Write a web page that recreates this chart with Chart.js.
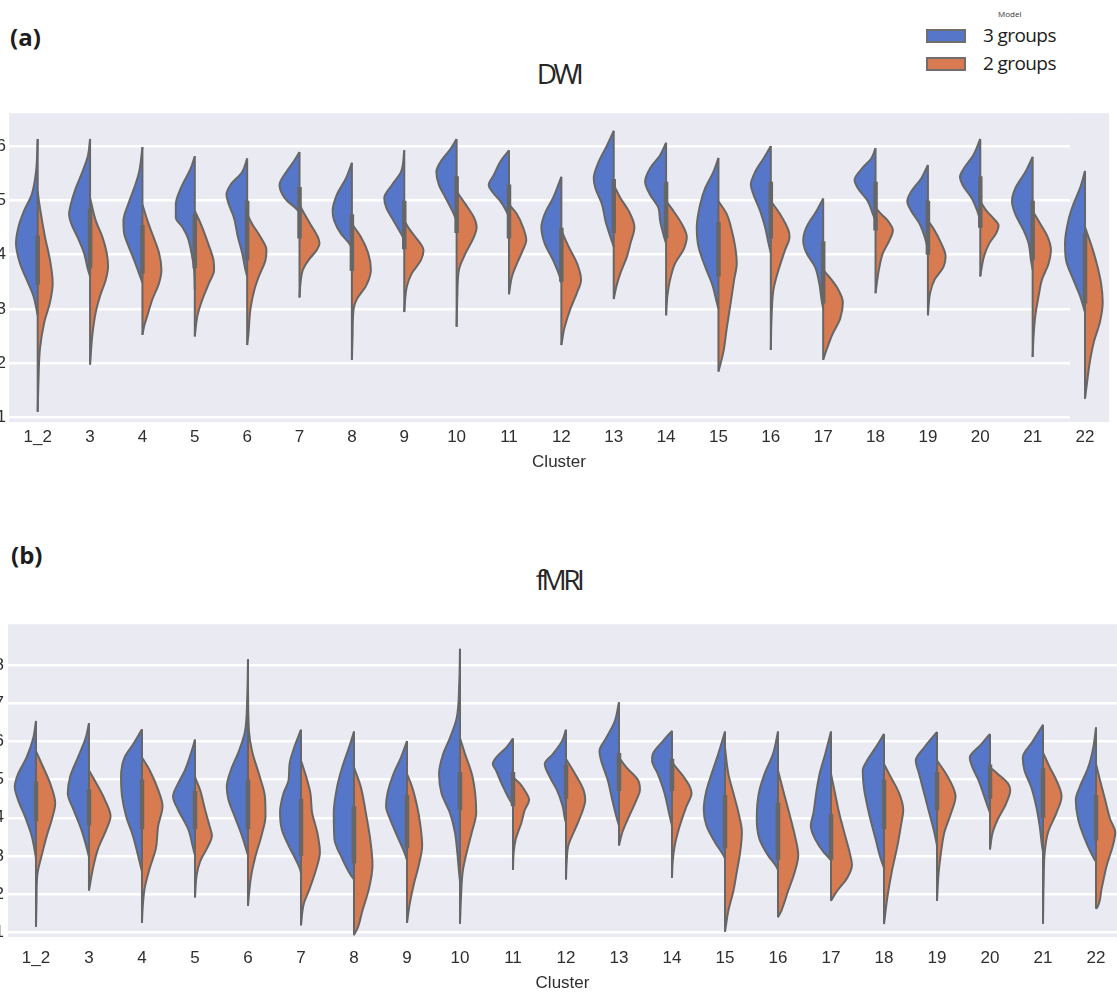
<!DOCTYPE html>
<html>
<head>
<meta charset="utf-8">
<script src="https://cdn.jsdelivr.net/npm/chart.js@4.4.1/dist/chart.umd.min.js"></script>
<style>
  html, body { margin: 0; padding: 0; background: #fff; }
  body { position: relative; width: 1117px; height: 996px; overflow: hidden; font-family: "Open Sans", sans-serif; }
  .tag { position: absolute; font-weight: 700; font-size: 24px; line-height: 24px; color: #1c1c1c; }
  .title { position: absolute; left: 0; width: 1117px; text-align: center; font-size: 28px; line-height: 28px; letter-spacing: -3.5px; color: #262626; }
  .panel { position: absolute; left: -30px; }
  .legend-title { position: absolute; left: 998px; top: 10px; font-size: 8px; line-height: 8px; color: #333; }
  .patch { position: absolute; left: 926px; width: 36px; height: 10px; border: 2px solid #6e6e6e; }
  .legend-text { position: absolute; left: 983px; font-size: 19px; line-height: 19px; letter-spacing: -0.6px; color: #1c1c1c; }
</style>
</head>
<body>

<div class="legend-title">Model</div>
<div class="patch" style="top:29px; background:#5677C9"></div>
<div class="legend-text" style="top:26px">3 groups</div>
<div class="patch" style="top:57px; background:#D97B51"></div>
<div class="legend-text" style="top:54px">2 groups</div>

<div class="tag" style="left:10px; top:25px">(a)</div>
<div class="title" style="top:59px">DWI</div>
<div class="panel" style="top:100px"><canvas id="dwi" width="1147" height="375"></canvas></div>

<div class="tag" style="left:11px; top:543px">(b)</div>
<div class="title" style="top:565px">fMRI</div>
<div class="panel" style="top:610px"><canvas id="fmri" width="1147" height="385"></canvas></div>

<script>
"use strict";

const CLUSTERS = ["1_2", "3", "4", "5", "6", "7", "8", "9", "10", "11", "12",
  "13", "14", "15", "16", "17", "18", "19", "20", "21", "22"];

const DWI_TICKS = [1, 2, 3, 4, 5, 6];
const FMRI_TICKS = [1, 2, 3, 4, 5, 6, 7, 8];

// Half-violin profiles: [score, density] pairs from the top tip down to the bottom tip.
const DWI_3G = [
  [[6.14,0],[5.53,1.7],[5.11,6],[4.81,13.7],[4.51,19.3],[4.21,21.7],[3.84,17.7],[3.54,11],[3.24,4.3],[2.88,0]],
  [[6.14,0],[5.84,2],[5.53,7.7],[5.23,14.3],[4.93,19.3],[4.75,21],[4.57,18.7],[4.33,12.7],[4.03,6],[3.72,2],[3.6,0]],
  [[5.99,0],[5.53,3.3],[5.23,8.3],[4.93,14.3],[4.63,19],[4.39,18.3],[4.21,15],[3.9,8.3],[3.6,2.3],[3.48,0]],
  [[5.82,0],[5.6,4],[5.23,14],[4.93,19],[4.69,19],[4.51,12.3],[4.33,7.3],[4.03,3.3],[3.72,0.7],[3.36,0]],
  [[5.78,0],[5.53,5],[5.29,16.7],[5.11,20.7],[4.93,18.3],[4.69,13.3],[4.33,9.3],[4.03,5],[3.72,1.7],[3.6,0]],
  [[5.9,0],[5.72,6],[5.53,13.3],[5.29,20],[5.11,17],[4.99,12],[4.87,4.3],[4.78,0]],
  [[5.7,0],[5.41,6],[5.11,15],[4.81,19.3],[4.63,17.7],[4.39,11],[4.21,2.7],[4.12,0]],
  [[5.93,0],[5.53,3.3],[5.29,12.3],[5.05,20],[4.87,18],[4.63,10.7],[4.39,3.3],[4.27,0]],
  [[6.14,0],[5.96,6],[5.72,16],[5.53,20.3],[5.29,17.7],[5.05,11],[4.81,4.3],[4.63,0]],
  [[5.93,0],[5.72,8.7],[5.47,15.3],[5.29,20.3],[5.17,17],[4.99,8.7],[4.81,2.7],[4.69,0]],
  [[5.44,0],[5.05,8.3],[4.75,16.7],[4.51,20],[4.21,16.7],[3.9,8.3],[3.6,1.7],[3.48,0]],
  [[6.29,0],[6.02,6.7],[5.72,15],[5.41,20],[5.23,18.3],[4.93,11.7],[4.63,8.3],[4.33,3.3],[4.15,0]],
  [[6.07,0],[5.84,6],[5.6,16],[5.35,21],[5.11,16],[4.87,7.7],[4.63,6],[4.33,2],[4.21,0]],
  [[5.79,0],[5.53,5],[5.23,13.3],[4.93,18.3],[4.51,21.7],[4.15,20],[3.78,13.3],[3.42,5.7],[3.12,1.7],[3.0,0]],
  [[6.01,0],[5.78,7.3],[5.53,15.7],[5.29,20],[5.11,17.3],[4.81,10.7],[4.51,5.7],[4.21,2.3],[4.03,0]],
  [[5.04,0],[4.81,6.7],[4.51,16.7],[4.27,20],[4.03,16.7],[3.78,8.3],[3.48,4],[3.18,1.7],[3.0,0]],
  [[5.97,0],[5.78,4.3],[5.6,13.3],[5.38,21],[5.23,17.7],[4.99,7.7],[4.75,2.7],[4.63,0]],
  [[5.66,0],[5.41,6.7],[5.17,16.7],[4.99,20.7],[4.81,16.7],[4.57,8.3],[4.27,2.3],[4.09,0]],
  [[6.14,0],[5.84,7],[5.6,16.3],[5.44,20.3],[5.29,17.7],[5.05,8.7],[4.81,3],[4.63,0]],
  [[5.81,0],[5.53,7.3],[5.23,17.3],[4.99,20.7],[4.75,17.3],[4.45,9],[4.21,4],[3.9,1.7],[3.72,0]],
  [[5.55,0],[5.23,5],[4.93,11.7],[4.63,16.7],[4.21,20],[3.9,19],[3.54,11.7],[3.24,5],[3.0,1],[2.94,0]],
];

const DWI_2G = [
  [[5.17,0],[4.93,1.7],[4.33,7.3],[3.9,12.3],[3.48,15],[3.12,12.3],[2.76,6.7],[2.27,2.3],[1.61,0.7],[1.1,0]],
  [[5.05,0],[4.63,5.7],[4.33,12.3],[4.03,16.7],[3.78,18],[3.54,15.7],[3.24,10],[2.94,5.7],[2.52,2.3],[1.97,0]],
  [[4.93,0],[4.63,5],[4.33,11],[4.03,16.7],[3.72,19],[3.48,16.7],[3.18,10],[2.88,5],[2.7,2],[2.52,0]],
  [[4.81,0],[4.57,6],[4.21,13.3],[3.9,18.7],[3.72,19.3],[3.48,14.3],[3.18,7.7],[2.88,2.7],[2.49,0]],
  [[4.75,0],[4.57,5],[4.33,13.3],[4.09,19.3],[3.9,18.3],[3.6,11.7],[3.36,7.3],[3.0,3.3],[2.52,1.2],[2.33,0]],
  [[4.93,0],[4.81,3.3],[4.57,10.7],[4.33,18.3],[4.21,20],[4.09,17.3],[3.9,9],[3.72,3.3],[3.48,1],[3.21,0]],
  [[4.57,0],[4.33,9],[4.03,16.3],[3.72,19],[3.42,14],[3.18,5],[3.0,1.7],[2.52,0.7],[2.06,0]],
  [[4.63,0],[4.45,6],[4.21,16],[4.09,19.3],[3.9,16.7],[3.66,7.7],[3.42,2.7],[2.94,0]],
  [[5.17,0],[4.93,9],[4.69,17.3],[4.51,20],[4.33,17.3],[4.03,9],[3.72,2.3],[3.24,0.7],[2.67,0]],
  [[4.93,0],[4.75,8],[4.51,14],[4.27,17.3],[4.09,14],[3.84,8],[3.6,3],[3.27,0]],
  [[4.45,0],[4.15,7.3],[3.84,15.7],[3.54,19.7],[3.3,15.7],[3.0,9],[2.64,3],[2.33,0]],
  [[5.29,0],[5.05,6.7],[4.81,15],[4.51,20.7],[4.21,16.7],[3.97,13.3],[3.66,6.7],[3.42,2.7],[3.18,0]],
  [[4.99,0],[4.81,7.3],[4.57,15.7],[4.33,20.7],[4.09,17.3],[3.84,9],[3.54,4],[3.24,1.3],[2.88,0]],
  [[4.99,0],[4.75,8.3],[4.45,13.3],[4.15,16.7],[3.84,18.3],[3.54,15.7],[3.12,12.3],[2.64,8.3],[2.21,5],[1.84,0]],
  [[4.99,0],[4.75,9.3],[4.45,17.7],[4.33,18.7],[4.09,14.3],[3.72,7.7],[3.36,2.7],[2.82,0.7],[2.24,0]],
  [[3.72,0],[3.54,8.3],[3.36,15],[3.12,19.7],[2.82,17],[2.52,9],[2.24,3.3],[2.06,0]],
  [[4.87,0],[4.75,5.7],[4.63,12.3],[4.45,17.3],[4.27,14],[4.03,7.3],[3.72,3.3],[3.29,0]],
  [[4.63,0],[4.45,6.7],[4.21,13.3],[3.97,17.7],[3.78,15.7],[3.54,6.7],[3.3,2.3],[2.88,0]],
  [[4.99,0],[4.81,6.3],[4.69,12.3],[4.54,18.3],[4.39,15.7],[4.21,9],[3.97,3.7],[3.6,0]],
  [[4.81,0],[4.57,7.7],[4.33,15],[4.09,18.3],[3.84,16],[3.54,9.3],[3.24,6],[2.88,2.7],[2.52,1],[2.11,0]],
  [[4.51,0],[4.21,5.7],[3.84,11.7],[3.48,16],[3.12,17.7],[2.76,15],[2.4,9],[2.04,5],[1.68,2.3],[1.34,0]],
];

// Interquartile range of both groups pooled, drawn as the thick inner bar.
const DWI_IQR = [[3.45,4.35],[3.75,4.85],[3.65,4.55],[3.75,4.75],[3.9,5.0],[4.3,5.25],[3.7,4.75],
  [4.1,5.0],[4.4,5.45],[4.3,5.3],[3.5,4.5],[4.4,5.4],[4.3,5.35],[3.6,4.6],[4.3,5.35],[3.1,4.25],
  [4.45,5.35],[4.0,5.0],[4.5,5.45],[3.9,5.0],[3.1,4.4]];

const FMRI_3G = [
  [[6.54,0],[6.09,2.7],[5.58,9.3],[5.15,17.7],[4.81,21],[4.47,17.7],[4.04,11],[3.53,4.3],[3.1,1],[2.93,0]],
  [[6.48,0],[6.09,3.3],[5.58,11],[5.07,18.7],[4.64,21],[4.21,15.3],[3.7,7.7],[3.19,2],[2.97,0]],
  [[6.32,0],[5.92,9],[5.58,17.3],[5.07,20.7],[4.56,19.7],[4.04,15.7],[3.53,9],[3.02,4],[2.59,0]],
  [[6.05,0],[5.75,3.3],[5.24,10],[4.9,16.7],[4.56,21.7],[4.21,16.7],[3.7,6.7],[3.19,1.7],[3.02,0]],
  [[8.16,0],[7.21,0.7],[6.26,3],[5.75,9],[5.24,17],[4.81,21],[4.47,19.3],[4.04,13.3],[3.53,6],[3.19,2],[3.02,0]],
  [[6.31,0],[5.84,6.7],[5.41,11.3],[4.98,12.3],[4.64,17.3],[4.13,20.7],[3.7,19],[3.27,12.3],[2.93,5.7],[2.68,1.3],[2.55,0]],
  [[6.26,0],[5.84,5],[5.32,11.7],[4.81,16.7],[4.13,20],[3.44,19.3],[2.93,11.7],[2.5,3.3],[2.38,0]],
  [[6.01,0],[5.58,6],[5.15,13.3],[4.64,19.3],[4.3,20.7],[3.96,16.7],[3.44,8.3],[3.1,2.7],[2.89,0]],
  [[8.43,0],[7.55,0.7],[6.61,3.3],[6.09,10],[5.67,16.7],[5.15,20.7],[4.64,18.3],[4.13,10],[3.62,5],[3.1,2.7],[2.59,1],[2.33,0]],
  [[6.08,0],[5.84,6.7],[5.58,16.7],[5.41,20],[5.24,16.7],[4.98,12.7],[4.73,8.3],[4.47,3.3],[4.34,0]],
  [[6.31,0],[6.01,4],[5.67,13],[5.41,21],[5.07,16],[4.73,9],[4.3,3.3],[3.96,1],[3.87,0]],
  [[7.03,0],[6.52,4.3],[6.09,12.7],[5.75,19.3],[5.5,17.7],[4.98,11],[4.47,6.7],[4.04,2.7],[3.79,0]],
  [[6.28,0],[6.01,9],[5.67,19],[5.5,19.7],[5.15,14],[4.64,7.3],[4.13,3],[3.79,0]],
  [[6.26,0],[5.67,6.7],[5.15,13.3],[4.64,19],[4.21,21],[3.79,18.3],[3.36,10],[3.02,1.7],[2.93,0]],
  [[6.26,0],[5.67,5],[5.15,13.3],[4.64,19],[3.96,21],[3.44,18.3],[3.02,10],[2.72,1.7],[2.63,0]],
  [[6.26,0],[5.67,5.7],[5.15,11.3],[4.64,14.7],[4.13,17.3],[3.79,20],[3.44,15.7],[3.1,7.3],[2.93,1.3],[2.89,0]],
  [[6.2,0],[5.84,8.3],[5.5,16.7],[5.24,21],[4.81,20],[4.13,15],[3.44,8.3],[2.93,3.3],[2.68,0]],
  [[6.25,0],[5.84,12.7],[5.5,21],[5.15,17.7],[4.64,12.7],[4.13,7.7],[3.62,2.7],[3.27,0]],
  [[6.2,0],[5.92,9],[5.58,20],[5.32,17.3],[4.98,11.3],[4.64,6.7],[4.3,2.3],[4.13,0]],
  [[6.44,0],[6.01,10],[5.58,20],[5.24,18.3],[4.81,11.7],[4.3,6.7],[3.79,3.3],[3.27,1],[3.1,0]],
  [[6.37,0],[5.84,2.7],[5.32,7.7],[4.81,16],[4.47,20],[3.96,17.7],[3.44,11],[2.93,2],[2.85,0]],
];

const FMRI_2G = [
  [[5.75,0],[5.41,5.7],[4.9,14],[4.38,19],[3.96,15.7],[3.53,10.7],[3.02,5.7],[2.5,1.3],[1.82,0.5],[1.14,0]],
  [[5.24,0],[4.9,7.3],[4.47,15.7],[4.04,21.3],[3.7,17.3],[3.19,9],[2.68,4],[2.09,0]],
  [[5.58,0],[5.24,7.7],[4.73,16],[4.3,20.3],[3.79,16],[3.19,13.7],[2.68,7.7],[2.16,2.7],[1.65,0.7],[1.24,0]],
  [[5.07,0],[4.73,5],[4.21,10],[3.79,14.3],[3.53,16.7],[3.19,11.7],[2.85,5],[2.5,1.7],[1.91,0]],
  [[7.38,0],[6.26,1],[5.75,4],[5.07,11.7],[4.56,16.7],[4.04,17.3],[3.53,13.3],[3.02,7.7],[2.5,3.3],[2.08,1.3],[1.69,0]],
  [[5.5,0],[5.15,4.3],[4.64,9.3],[4.13,11],[3.62,16],[3.1,18.7],[2.59,14.3],[2.08,7.7],[1.74,2.7],[1.18,0]],
  [[5.32,0],[4.81,6.7],[4.13,11.7],[3.44,16],[2.76,18.3],[2.16,15],[1.56,8.3],[1.14,4],[0.92,0]],
  [[5.15,0],[4.81,5],[4.3,10],[3.79,13.3],[3.27,15],[2.76,11.7],[2.25,6.7],[1.74,2.7],[1.24,0]],
  [[6.09,0],[5.67,5],[5.15,11.7],[4.64,15],[4.13,16],[3.62,11.7],[3.1,6.7],[2.59,2.7],[1.91,1],[1.22,0]],
  [[5.07,0],[4.9,6.7],[4.64,13.3],[4.47,16],[4.21,11.7],[3.87,8.3],[3.44,2.7],[3.1,0.7],[2.63,0]],
  [[5.54,0],[5.15,9],[4.73,17.3],[4.47,19],[4.13,15.7],[3.7,9],[3.27,2.3],[2.85,0.7],[2.38,0]],
  [[5.58,0],[5.32,7.3],[4.98,19],[4.73,20.7],[4.47,17.3],[4.04,10],[3.62,3.3],[3.27,0]],
  [[5.45,0],[5.15,9.3],[4.81,17.7],[4.64,19.3],[4.3,14.3],[3.79,7.7],[3.27,2.7],[2.85,0.7],[2.42,0]],
  [[5.84,0],[5.15,3.3],[4.64,8.3],[4.13,13.3],[3.62,16.7],[3.1,15],[2.59,11.7],[2.08,8.3],[1.56,3.3],[1.01,0]],
  [[5.24,0],[4.73,5],[4.13,11],[3.53,16.7],[3.02,20],[2.59,16.7],[2.08,10],[1.56,3.3],[1.39,0]],
  [[5.15,0],[4.64,4],[4.13,8],[3.62,13],[3.1,18.3],[2.76,20.7],[2.42,16],[2.08,6],[1.82,0]],
  [[5.41,0],[5.15,5],[4.64,15],[4.21,19],[3.79,16.7],[3.27,13.3],[2.59,7.7],[1.91,3.3],[1.21,0]],
  [[5.5,0],[5.15,9],[4.81,15.7],[4.56,18.3],[4.13,14],[3.62,7.3],[3.1,4],[2.59,1.7],[1.82,0]],
  [[5.32,0],[5.15,7.7],[4.9,17.7],[4.73,20],[4.38,16],[3.96,7.7],[3.62,2.7],[3.17,0]],
  [[5.71,0],[5.32,6.7],[4.98,13.3],[4.56,18.3],[4.13,13.3],[3.62,5],[3.1,1.7],[2.42,0.7],[1.22,0]],
  [[5.41,0],[4.98,4],[4.47,9],[3.96,14],[3.62,19],[3.27,16.7],[2.76,10.7],[2.16,5.7],[1.65,1.3],[1.61,0]],
];

const FMRI_IQR = [[3.9,4.95],[3.8,4.75],[3.7,5.0],[3.7,4.7],[3.7,5.0],[3.0,4.5],[2.8,4.3],
  [3.2,4.6],[4.2,5.2],[4.3,5.2],[4.5,5.4],[4.7,5.7],[4.7,5.55],[3.2,4.6],[2.9,4.4],[2.9,4.1],
  [3.7,5.0],[4.2,5.2],[4.5,5.4],[4.0,5.3],[3.4,4.6]];

const BLUE = "#5677C9";
const ORANGE = "#D97B51";
const EDGE = "#666666";
const PLOT_BG = "#EAEAF2";
const TEXT = "#2e2e2e";
// density units -> fraction of one category slot
const DENSITY_SCALE = 1 / 52.4;
const AXIS_FONT = { family: "'Liberation Sans', Arial, sans-serif", size: 17 };

// Grey plot area; optionally hides the grid to the right of a given x value.
const plotBg = {
  id: "plotBg",
  beforeDraw(chart) {
    const { ctx, chartArea: a } = chart;
    ctx.save();
    ctx.fillStyle = PLOT_BG;
    ctx.fillRect(a.left, a.top, a.right - a.left, a.bottom - a.top);
    ctx.restore();
  },
  beforeDatasetsDraw(chart, args, opts) {
    if (opts.gridEnd == null) return;
    const { ctx, chartArea: a } = chart;
    const x = chart.scales.x.getPixelForValue(opts.gridEnd);
    ctx.save();
    ctx.fillStyle = PLOT_BG;
    ctx.fillRect(x, a.top, a.right - x, a.bottom - a.top);
    ctx.restore();
  },
};

// One side of a split violin, filled back to the category centre line.
function halfViolin(profile, i, side, color) {
  return {
    data: profile.map(([v, d]) => ({ x: i + side * d * DENSITY_SCALE, y: v })),
    backgroundColor: color,
    borderColor: EDGE,
    borderWidth: 2,
    fill: { value: i },
    cubicInterpolationMode: "monotone",
    pointRadius: 0,
    order: 2,
  };
}

function stick(i, lo, hi, width, order) {
  return {
    data: [{ x: i, y: lo }, { x: i, y: hi }],
    borderColor: EDGE,
    borderWidth: width,
    pointRadius: 0,
    fill: false,
    order,
  };
}

function makePanel(id, cfg) {
  const datasets = [];
  CLUSTERS.forEach((_, i) => {
    const b = cfg.blue[i];
    const o = cfg.orange[i];
    datasets.push(halfViolin(b, i, -1, BLUE));
    datasets.push(halfViolin(o, i, 1, ORANGE));
    const hi = Math.max(b[0][0], o[0][0]);
    const lo = Math.min(b[b.length - 1][0], o[o.length - 1][0]);
    datasets.push(stick(i, lo, hi, 2, 1));
    datasets.push(stick(i, cfg.iqr[i][0], cfg.iqr[i][1], 4.5, 0));
  });

  return new Chart(document.getElementById(id), {
    type: "line",
    data: { datasets },
    options: {
      indexAxis: "y",
      responsive: false,
      animation: false,
      events: [],
      layout: { padding: cfg.padding },
      plugins: {
        legend: { display: false },
        tooltip: { enabled: false },
        plotBg: { gridEnd: cfg.gridEnd },
      },
      scales: {
        x: {
          type: "linear",
          bounds: "data",
          min: cfg.xMin,
          max: cfg.xMax,
          grid: { display: false },
          border: { display: false },
          afterBuildTicks: (s) => { s.ticks = CLUSTERS.map((_, k) => ({ value: k })); },
          afterFit: (s) => { s.height = cfg.xAxisHeight; },
          ticks: {
            autoSkip: false, maxRotation: 0, padding: cfg.xTickPad,
            color: TEXT, font: AXIS_FONT,
            callback: (v) => CLUSTERS[v],
          },
          title: {
            display: true, text: "Cluster", color: TEXT, font: AXIS_FONT,
            padding: { top: 0, bottom: cfg.titlePad },
          },
        },
        y: {
          type: "linear",
          bounds: "data",
          min: cfg.yMin,
          max: cfg.yMax,
          afterBuildTicks: (s) => { s.ticks = cfg.yTicks.map((v) => ({ value: v })); },
          afterFit: (s) => { s.width = cfg.yAxisWidth; },
          grid: { color: "#ffffff", lineWidth: 2.5, drawTicks: false },
          border: { display: false },
          ticks: { padding: cfg.yTickPad, color: TEXT, font: AXIS_FONT },
        },
      },
    },
    plugins: [plotBg],
  });
}

makePanel("dwi", {
  blue: DWI_3G, orange: DWI_2G, iqr: DWI_IQR, yTicks: DWI_TICKS,
  xMin: -0.548, xMax: 20.458, yMin: 0.909, yMax: 6.616,
  padding: { top: 7, right: 8, bottom: 0, left: 0 },
  xAxisHeight: 53, yAxisWidth: 39, xTickPad: -3, yTickPad: 3, titlePad: 2,
  gridEnd: 19.71,
});

makePanel("fmri", {
  blue: FMRI_3G, orange: FMRI_2G, iqr: FMRI_IQR, yTicks: FMRI_TICKS,
  xMin: -0.528, xMax: 20.396, yMin: 0.872, yMax: 9.077,
  padding: { top: 7, right: 0, bottom: 0, left: 0 },
  xAxisHeight: 58, yAxisWidth: 38, xTickPad: 3, yTickPad: 4, titlePad: 1,
  gridEnd: null,
});
</script>
</body>
</html>
